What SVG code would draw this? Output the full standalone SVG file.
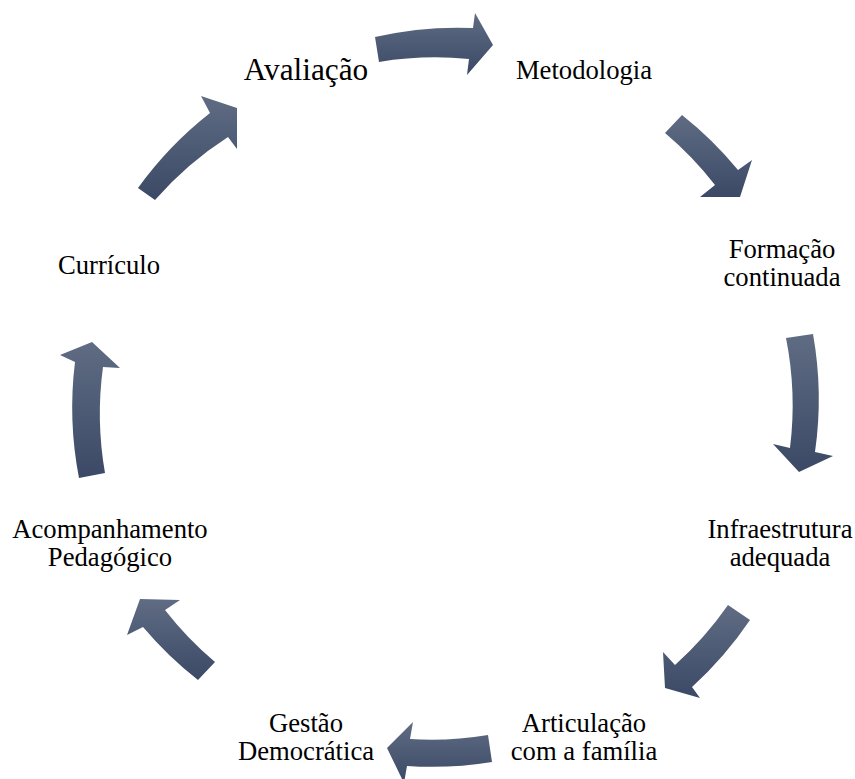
<svg xmlns="http://www.w3.org/2000/svg" width="855" height="779" viewBox="0 0 855 779">
<defs>
<linearGradient id="g" x1="0" y1="0" x2="0" y2="1">
<stop offset="0" stop-color="#5f6c83"/>
<stop offset="1" stop-color="#3b4966"/>
</linearGradient>
<style>
.arr{fill:url(#g);stroke:none}
.t{font-family:"Liberation Serif","Times New Roman",serif;font-size:26.67px;fill:#000;text-anchor:middle}
.big{font-size:31.3px}
</style>
</defs>
<rect width="855" height="779" fill="#fff"/>
<g id="connectors">
<path id="a1" class="arr" d="M375,37 A370,370 0 0 1 473,28 L475,13 L493,45 L467,75 L469,59 A345,345 0 0 0 379,62 Z"/>
<path id="a2" class="arr" d="M682,115 A370,370 0 0 1 738,170 L752,160 L740,197 L700,197 L715,185 A345,345 0 0 0 665,133 Z"/>
<path id="a3" class="arr" d="M813,334 A370,370 0 0 1 815,452 L833,456 L799,472 L773,444 L790,448 A345,345 0 0 0 786,338 Z"/>
<path id="a4" class="arr" d="M750,620 A370,370 0 0 1 692,687 L700,698 L665,688 L663,652 L675,665 A345,345 0 0 0 728,605 Z"/>
<path id="a5" class="arr" d="M492,762 A370,370 0 0 1 407,766 L404,783 L387,748 L413,722 L410,739 A345,345 0 0 0 488,735 Z"/>
<path id="a6" class="arr" d="M198,680 A370,370 0 0 1 143,627 L127,635 L140,599 L180,600 L165,610 A345,345 0 0 0 215,662 Z"/>
<path id="a7" class="arr" d="M79,478 A370,370 0 0 1 75,362 L60,355 L92,342 L120,368 L103,367 A345,345 0 0 0 105,473 Z"/>
<path id="a8" class="arr" d="M138,188 A370,370 0 0 1 210,113 L201,96 L237,108 L237,149 L228,137 A345,345 0 0 0 155,200 Z"/>
</g>
<g id="n-avaliacao"><text class="t big" x="306" y="80">Avaliação</text></g>
<g id="n-metodologia"><text class="t" x="584" y="79">Metodologia</text></g>
<g id="n-formacao"><text class="t" x="782" y="258">Formação</text><text class="t" x="782" y="286">continuada</text></g>
<g id="n-infra"><text class="t" x="780" y="538">Infraestrutura</text><text class="t" x="780" y="566">adequada</text></g>
<g id="n-articulacao"><text class="t" x="584" y="732">Articulação</text><text class="t" x="584" y="760">com a família</text></g>
<g id="n-gestao"><text class="t" x="306" y="732">Gestão</text><text class="t" x="306" y="760">Democrática</text></g>
<g id="n-acomp"><text class="t" x="110" y="538">Acompanhamento</text><text class="t" x="110" y="566">Pedagógico</text></g>
<g id="n-curriculo"><text class="t" x="109" y="274">Currículo</text></g>
</svg>
